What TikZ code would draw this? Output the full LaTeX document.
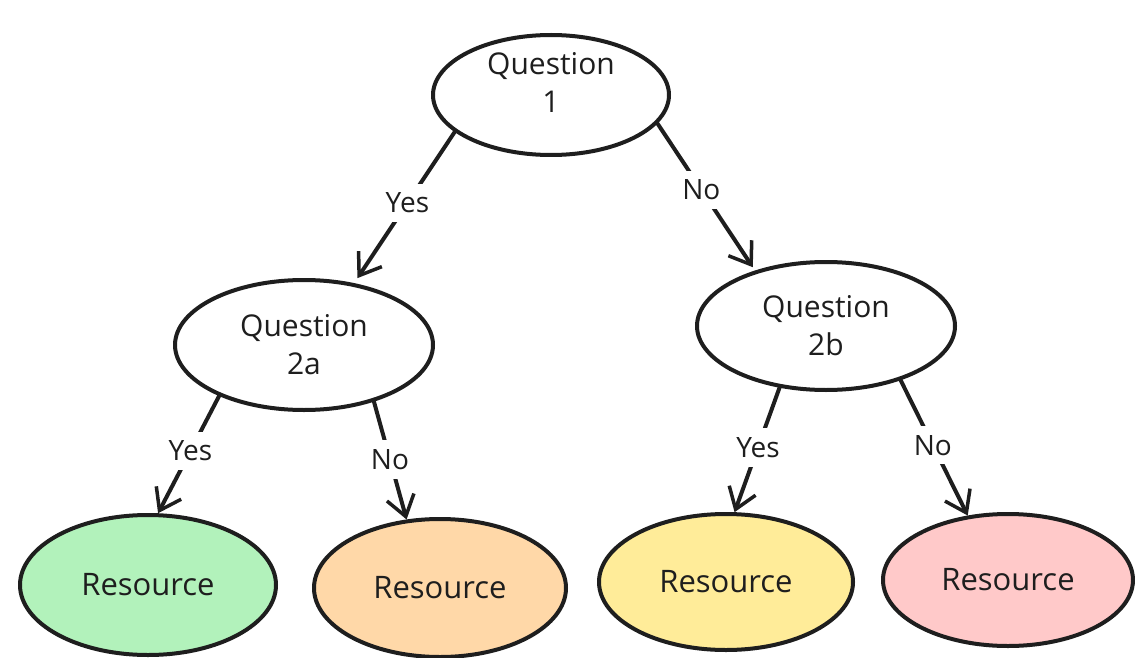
\documentclass[tikz,border=0pt]{standalone}
\usepackage[x11names, svgnames, rgb]{xcolor}
\usepackage{tikz}
\usetikzlibrary{arrows,arrows.meta,shapes}
\usepackage{fontspec}
\setmainfont{Open Sans}

\definecolor{strokecol}{HTML}{1E1E1E}
\definecolor{resgreen}{HTML}{B2F2BB}
\definecolor{resorange}{HTML}{FFD8A8}
\definecolor{resyellow}{HTML}{FFEC99}
\definecolor{respink}{HTML}{FFC9C9}

\tikzset{
  qnode/.style={ellipse, draw=strokecol, line width=4pt, fill=white, inner sep=0pt,
    align=center, text=strokecol, font=\fontsize{30}{38}\selectfont},
  rnode/.style={ellipse, draw=strokecol, line width=4pt, inner sep=0pt,
    text=strokecol, font=\fontsize{31}{36}\selectfont},
  edge/.style={draw=strokecol, line width=4pt, line cap=round,
    -{Straight Barb[length=20pt, width=28pt, line width=3.5pt]}},
  elabel/.style={fill=white, inner sep=9pt, text=strokecol, font=\fontsize{28}{32}\selectfont},
}

\begin{document}
\begin{tikzpicture}[x=1pt,y=-1pt,line join=round]
\useasboundingbox (0,0) rectangle (1135,658);
%%
  % Node: q1
  \node[qnode, minimum width=236pt, minimum height=120pt] (q1) at (551,95) {};
  \node[text=strokecol, align=center, font=\fontsize{30}{38}\selectfont] (q1text) at (551,82) {Question\\1};
  % Node: q2a
  \node[qnode, minimum width=258pt, minimum height=130pt] (q2a) at (304,345) {Question\\2a};
  % Node: q2b
  \node[qnode, minimum width=258pt, minimum height=128pt] (q2b) at (826,326) {Question\\2b};
  % Node: r1
  \node[rnode, fill=resgreen, minimum width=256pt, minimum height=140pt] (r1) at (148,585) {Resource};
  % Node: r2
  \node[rnode, fill=resorange, minimum width=252pt, minimum height=138pt] (r2) at (440,588) {Resource};
  % Node: r3
  \node[rnode, fill=resyellow, minimum width=254pt, minimum height=136pt] (r3) at (726,582) {Resource};
  % Node: r4
  \node[rnode, fill=respink, minimum width=250pt, minimum height=132pt] (r4) at (1008,580) {Resource};
%
  % Edge: q1 -> q2a
  \draw[edge, shorten >=6pt] (q1.201) -- node[elabel, pos=0.47] (l1) {Yes} (q2a.51);
  % Edge: q1 -> q2b
  \draw[edge, shorten >=4pt] (q1.345) -- node[elabel, pos=0.45] (l2) {No} (q2b.142);
  % Edge: q2a -> r1
  \draw[edge] (q2a.211) -- node[elabel, pos=0.47] (l3) {Yes} (r1.82);
  % Edge: q2a -> r2
  \draw[edge] (q2a.321) -- node[elabel, pos=0.49] (l4) {No} (r2.116);
  % Edge: q2b -> r3
  \draw[edge] (q2b.233) -- node[elabel, pos=0.48] (l5) {Yes} (r3.83);
  % Edge: q2b -> r4
  \draw[edge] (q2b.324) -- node[elabel, pos=0.48] (l6) {No} (r4.122);
%
\end{tikzpicture}
\end{document}
